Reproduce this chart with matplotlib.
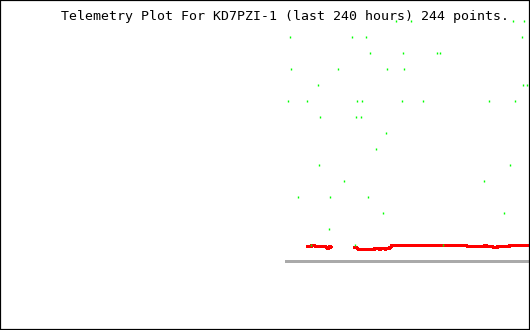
import numpy as np
import matplotlib
matplotlib.use("Agg")
import matplotlib.pyplot as plt

title = "Telemetry Plot For KD7PZI-1 (last 240 hours) 244 points."

# Green telemetry samples: (hours relative to now, value level)
green_hours = [
    -60.7, -53.9, -7.7, -2.7,
    -108.5, -80.5, -74.1, -3.5,
    -72.5, -57.4, -42.0, -40.6,
    -108.1, -86.8, -64.6, -56.9,
    -95.9, -3.0, -1.2,
    -109.4, -100.8, -78.2, -75.9, -57.8, -48.3, -18.4, -6.7,
    -95.0, -78.7, -76.4,
    -65.1,
    -69.6,
    -95.4, -8.9,
    -84.1, -20.7,
    -104.9, -90.4, -73.2,
    -66.7, -11.6,
    -90.9,
    -99.2, -79.1, -39.5,
]
green_values = [
    15, 15, 15, 15,
    14, 14, 14, 14,
    13, 13, 13, 13,
    12, 12, 12, 12,
    11, 11, 11,
    10, 10, 10, 10, 10, 10, 10, 10,
    9, 9, 9,
    8,
    7,
    6, 6,
    5, 5,
    4, 4, 4,
    3, 3,
    2,
    1, 1, 1,
]

# Red telemetry series (NaN marks a gap in data)
red_hours = [
    -101.4, -99.4, -98.9, -97.6, -97.1, -92.5, -92.1, -91.6, -91.2, -90.7, -90.2, -89.8,
    -85.0,
    -79.7, -78.5, -78.0, -77.4, -70.6, -70.2, -68.4, -68.1, -67.6, -65.8, -65.5, -65.2,
    -63.9, -63.4, -62.9, -62.5, -62.0, -28.7, -28.2, -20.8, -20.4, -19.6, -19.2, -16.8,
    -16.3, -14.9, -14.5, -9.5, -9.1, -0.5,
]
red_values = [
    0.875, 0.875, 0.9375, 0.9375, 0.875, 0.875, 0.8125, 0.75, 0.8125, 0.875, 0.875, 0.8125,
    np.nan,
    0.8125, 0.8125, 0.75, 0.6875, 0.6875, 0.75, 0.75, 0.6875, 0.75, 0.75, 0.6875, 0.75,
    0.75, 0.8125, 0.875, 0.9375, 0.9375, 0.9375, 0.875, 0.875, 0.9375, 0.9375, 0.875, 0.875,
    0.8125, 0.8125, 0.875, 0.875, 0.9375, 0.9375,
]

baseline_start = -110.9
baseline_end = 0.0

fig = plt.figure(figsize=(5.3, 3.3), dpi=100)
fig.patch.set_facecolor("white")
ax = fig.add_axes([0, 0, 1, 1])
ax.set_xlim(-240, 0)
ax.set_ylim(-4.33, 16.29)
ax.set_xticks([])
ax.set_yticks([])
for s in ax.spines.values():
    s.set_color("black")
    s.set_linewidth(1.6)

ax.plot([baseline_start, baseline_end], [0, 0], color="#aaaaaa", lw=2.0,
        solid_capstyle="butt", antialiased=False)
ax.plot(red_hours, red_values, color="#ff0000", lw=1.8, solid_capstyle="butt",
        antialiased=False)
ax.plot(green_hours, green_values, linestyle="none", marker="|", ms=1.5,
        mew=1.0, color="#00ff00", antialiased=False)

fig.text(61 / 530, 1 - 20.3 / 330, title, family="DejaVu Sans Mono",
         fontsize=9.5, color="black", ha="left", va="baseline")

fig.savefig("out.png", dpi=100, facecolor="white")
